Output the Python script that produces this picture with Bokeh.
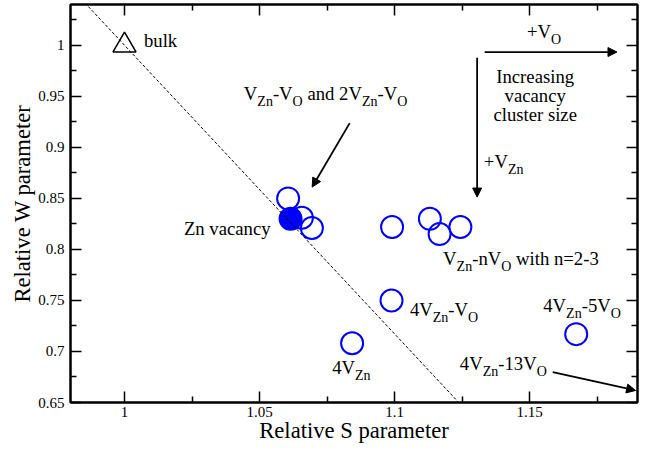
import re

from bokeh.core.properties import value
from bokeh.embed import file_html
from bokeh.models import (Arrow, CustomLabelingPolicy, FixedTicker, LinearAxis,
                          NormalHead, Range1d)
from bokeh.plotting import figure
from bokeh.resources import INLINE

# Relative S and W parameters
bulk_s = [1.0]
bulk_w = [1.0]

zn_vacancy_s = [1.0615]
zn_vacancy_w = [0.830]

defect_s = [1.0606, 1.0657, 1.0694, 1.0991, 1.1131, 1.1167, 1.1244, 1.0989, 1.0843, 1.1673]
defect_w = [0.850, 0.831, 0.821, 0.822, 0.830, 0.815, 0.822, 0.750, 0.708, 0.717]

# straight S-W line through the bulk point
line_s = [0.9866, 1.1238]
line_w = [1.038, 0.650]

x_ticks = [1.0, 1.05, 1.1, 1.15]
x_tick_labels = ["1", "1.05", "1.1", "1.15"]
x_minor_ticks = [1.025, 1.075, 1.125, 1.175]

y_ticks = [0.65, 0.7, 0.75, 0.8, 0.85, 0.9, 0.95, 1.0]
y_tick_labels = ["0.65", "0.7", "0.75", "0.8", "0.85", "0.9", "0.95", "1"]
y_minor_ticks = [0.675, 0.725, 0.775, 0.825, 0.875, 0.925, 0.975, 1.025]

# annotation labels: (text, S, W); "_{..}" marks a subscript
labels = [
    ("bulk", 1.0072, 1.0045),
    ("V_{Zn}-V_{O} and 2V_{Zn}-V_{O}", 1.0442, 0.9527),
    ("+V_{O}", 1.1491, 1.0131),
    ("+V_{Zn}", 1.1331, 0.8863),
    ("V_{Zn}-nV_{O} with n=2-3", 1.1180, 0.7910),
    ("4V_{Zn}-V_{O}", 1.1057, 0.7410),
    ("4V_{Zn}-5V_{O}", 1.1551, 0.7452),
    ("4V_{Zn}-13V_{O}", 1.1242, 0.6886),
    ("4V_{Zn}", 1.0769, 0.6847),
]
zn_vacancy_label = ("Zn vacancy", 1.0541, 0.8207)
cluster_note = ["Increasing", "vacancy", "cluster size"]
cluster_note_s = 1.1521
cluster_note_w = [0.9697, 0.9510, 0.9325]

# arrows: (S start, W start, S end, W end)
arrows = [
    (1.0834, 0.9238, 1.0695, 0.8611),
    (1.1334, 0.9934, 1.1824, 0.9934),
    (1.1306, 0.9879, 1.1306, 0.8513),
    (1.1586, 0.6797, 1.1893, 0.6618),
]

SERIF = "Liberation Serif"
MAIN_SIZE = 18.7
SUB_SIZE = 14
SUB_SHIFT = 8

# Times-style advance widths (1/1000 em)
ADV = {"V": 722, "Z": 611, "O": 722, "n": 500, "-": 333, " ": 250, "a": 444,
       "d": 500, "+": 564, "w": 722, "i": 278, "t": 278, "h": 500, "=": 564,
       "b": 500, "u": 500, "l": 278, "k": 500}


def text_width(s, size):
    return sum(ADV.get(c, 500) for c in s) * size / 1000.0


p = figure(
    width=645, height=449,
    x_range=Range1d(0.98, 1.19), y_range=Range1d(0.65, 1.04),
    output_backend="svg", toolbar_location=None,
    min_border_left=70, min_border_right=8, min_border_top=4, min_border_bottom=47,
    background_fill_color="white", border_fill_color="white",
)
p.xgrid.visible = False
p.ygrid.visible = False
p.outline_line_color = "black"
p.outline_line_width = 2
p.outline_line_alpha = 1


def style_axis(ax, ticks, minor, labels_, show_labels):
    ax.ticker = FixedTicker(ticks=ticks, minor_ticks=minor)
    ax.axis_line_color = "black"
    ax.axis_line_width = 2
    ax.major_tick_in = 11
    ax.major_tick_out = 0
    ax.minor_tick_in = 6
    ax.minor_tick_out = 0
    ax.major_tick_line_color = "black"
    ax.minor_tick_line_color = "black"
    ax.major_tick_line_width = 1.5
    ax.minor_tick_line_width = 1.5
    ax.major_label_text_font = SERIF
    ax.major_label_text_color = "black"
    if show_labels:
        ax.major_label_overrides = dict(zip(ticks, labels_))
        ax.major_label_text_font_size = "15px"
    else:
        # mirrored axis: tick marks only
        ax.major_label_policy = CustomLabelingPolicy(code="return new Set()")
        ax.major_label_text_font_size = "0px"
        ax.major_label_standoff = 0


xa = p.xaxis[0]
style_axis(xa, x_ticks, x_minor_ticks, x_tick_labels, True)
xa.major_label_standoff = 4
xa.axis_label = "Relative S parameter"
xa.axis_label_text_font = SERIF
xa.axis_label_text_font_size = "22.6px"
xa.axis_label_text_font_style = "normal"
xa.axis_label_text_color = "black"
xa.axis_label_standoff = -2

ya = p.yaxis[0]
style_axis(ya, y_ticks, y_minor_ticks, y_tick_labels, True)
ya.major_label_standoff = 6
ya.axis_label = "Relative W parameter"
ya.axis_label_text_font = SERIF
ya.axis_label_text_font_size = "22.6px"
ya.axis_label_text_font_style = "normal"
ya.axis_label_text_color = "black"
ya.axis_label_standoff = 0

top = LinearAxis()
style_axis(top, x_ticks, x_minor_ticks, x_tick_labels, False)
p.add_layout(top, "above")
right = LinearAxis()
style_axis(right, y_ticks, y_minor_ticks, y_tick_labels, False)
p.add_layout(right, "right")

# data points
p.scatter(defect_s, defect_w, marker="circle", size=22, fill_color=None,
          line_color="#0000ff", line_width=2)
p.scatter(zn_vacancy_s, zn_vacancy_w, marker="circle", size=22, fill_color="#0000ff",
          line_color="#0000ff", line_width=2)
p.scatter(bulk_s, bulk_w, marker="triangle", size=23, fill_color=None,
          line_color="black", line_width=1.5)

p.line(line_s, line_w, line_color="black", line_width=1, line_dash="3 2")

# arrows
for xs, ys, xe, ye in arrows:
    p.add_layout(Arrow(
        end=NormalHead(size=9, fill_color="black", line_color="black", line_width=1),
        x_start=xs, y_start=ys, x_end=xe, y_end=ye,
        line_color="black", line_width=1.8,
    ))


def draw_run(word, x, y, offset, size, shift):
    p.text(x=[x], y=[y], text=[word], x_offset=offset, y_offset=shift,
           text_font=value(SERIF), text_font_size=f"{size}px",
           text_color="black", text_baseline="alphabetic", text_align="left")


def rich_text(s, x, y):
    parts = re.split(r"_\{([^}]*)\}", s)
    offset = 0.0
    for i, part in enumerate(parts):
        if not part:
            continue
        is_sub = i % 2 == 1
        size = SUB_SIZE if is_sub else MAIN_SIZE
        shift = SUB_SHIFT if is_sub else 0
        # words are placed one by one so that spaces keep their width
        words = part.split(" ")
        for j, word in enumerate(words):
            if j > 0:
                offset += text_width(" ", size)
            if word:
                draw_run(word, x, y, offset, size, shift)
                offset += text_width(word, size)


for s, x, y in labels:
    rich_text(s, x, y)

txt, zx, zy = zn_vacancy_label
p.text(x=[zx], y=[zy], text=[txt], text_font=value(SERIF),
       text_font_size=f"{MAIN_SIZE}px", text_color="black",
       text_baseline="alphabetic", text_align="right")

p.text(x=[cluster_note_s] * len(cluster_note), y=cluster_note_w, text=cluster_note,
       text_font=value(SERIF), text_font_size=f"{MAIN_SIZE}px", text_color="black",
       text_baseline="alphabetic", text_align="center")

open("out.html", "w").write(file_html(p, INLINE))
